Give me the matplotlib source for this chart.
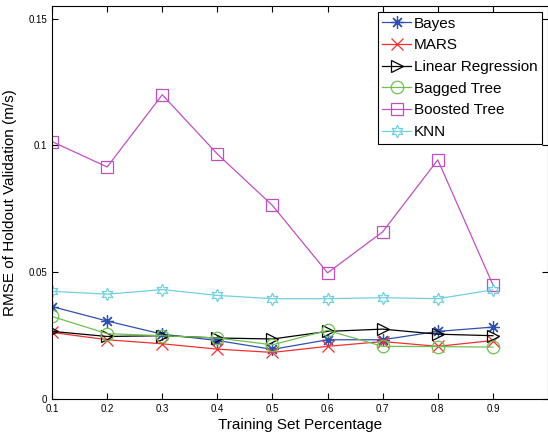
import numpy as np
import matplotlib
matplotlib.use("Agg")
import matplotlib.pyplot as plt

plt.rcParams['font.family'] = ['Liberation Sans', 'DejaVu Sans']

train_pct = [0.1, 0.2, 0.3, 0.4, 0.5, 0.6, 0.7, 0.8, 0.9]

bayes = [0.0364, 0.0307, 0.0255, 0.0230, 0.0195, 0.0233, 0.0233, 0.0266, 0.0283]
mars = [0.0262, 0.0233, 0.0217, 0.0196, 0.0183, 0.0207, 0.0226, 0.0207, 0.0230]
linreg = [0.0266, 0.0246, 0.0249, 0.0240, 0.0236, 0.0266, 0.0275, 0.0255, 0.0249]
bagged = [0.0325, 0.0257, 0.0249, 0.0240, 0.0213, 0.0270, 0.0207, 0.0206, 0.0204]
boosted = [0.1015, 0.0915, 0.1200, 0.0966, 0.0763, 0.0497, 0.0659, 0.0943, 0.0450]
knn = [0.0424, 0.0413, 0.0431, 0.0408, 0.0395, 0.0395, 0.0399, 0.0395, 0.0430]

# (label, values, marker, colour); (8,2,0) = asterisk, (6,1,0) = hexagram
series = [
    ("Bayes", bayes, (8, 2, 0), "#3050b0"),
    ("MARS", mars, "x", "#f03030"),
    ("Linear Regression", linreg, ">", "#000000"),
    ("Bagged Tree", bagged, "o", "#70c050"),
    ("Boosted Tree", boosted, "s", "#c050c0"),
    ("KNN", knn, (6, 1, 0), "#70d0e0"),
]

fig = plt.figure(figsize=(5.48, 4.33), dpi=100)
ax = fig.add_axes([0.095, 0.079, 0.905, 0.907])

for name, vals, mk, col in series:
    ax.plot(train_pct, vals, color=col, marker=mk, markersize=9,
            markerfacecolor="none", markeredgecolor=col, linewidth=0.9,
            markeredgewidth=0.9, label=name)

ax.set_xlim(0.1, 1.0)
ax.set_ylim(0, 0.155)
ax.set_xticks(train_pct)
ax.set_xticklabels(["0.1", "0.2", "0.3", "0.4", "0.5", "0.6", "0.7", "0.8", "0.9"])
ax.set_yticks([0, 0.05, 0.1, 0.15])
ax.set_yticklabels(["0", "0.05", "0.1", "0.15"])
ax.tick_params(direction="in", top=True, right=True, labelsize=7, length=4)
ax.set_xlabel("Training Set Percentage", fontsize=11, labelpad=3)
ax.set_ylabel("RMSE of Holdout Validation (m/s)", fontsize=11, labelpad=8)

leg = ax.legend(loc="upper right", fontsize=11, fancybox=False, framealpha=1,
                edgecolor="black", borderaxespad=0.4, handlelength=1.9,
                handletextpad=0.15, labelspacing=0.5, borderpad=0.3)
leg.get_frame().set_linewidth(0.8)

fig.savefig("out.png", dpi=100)
